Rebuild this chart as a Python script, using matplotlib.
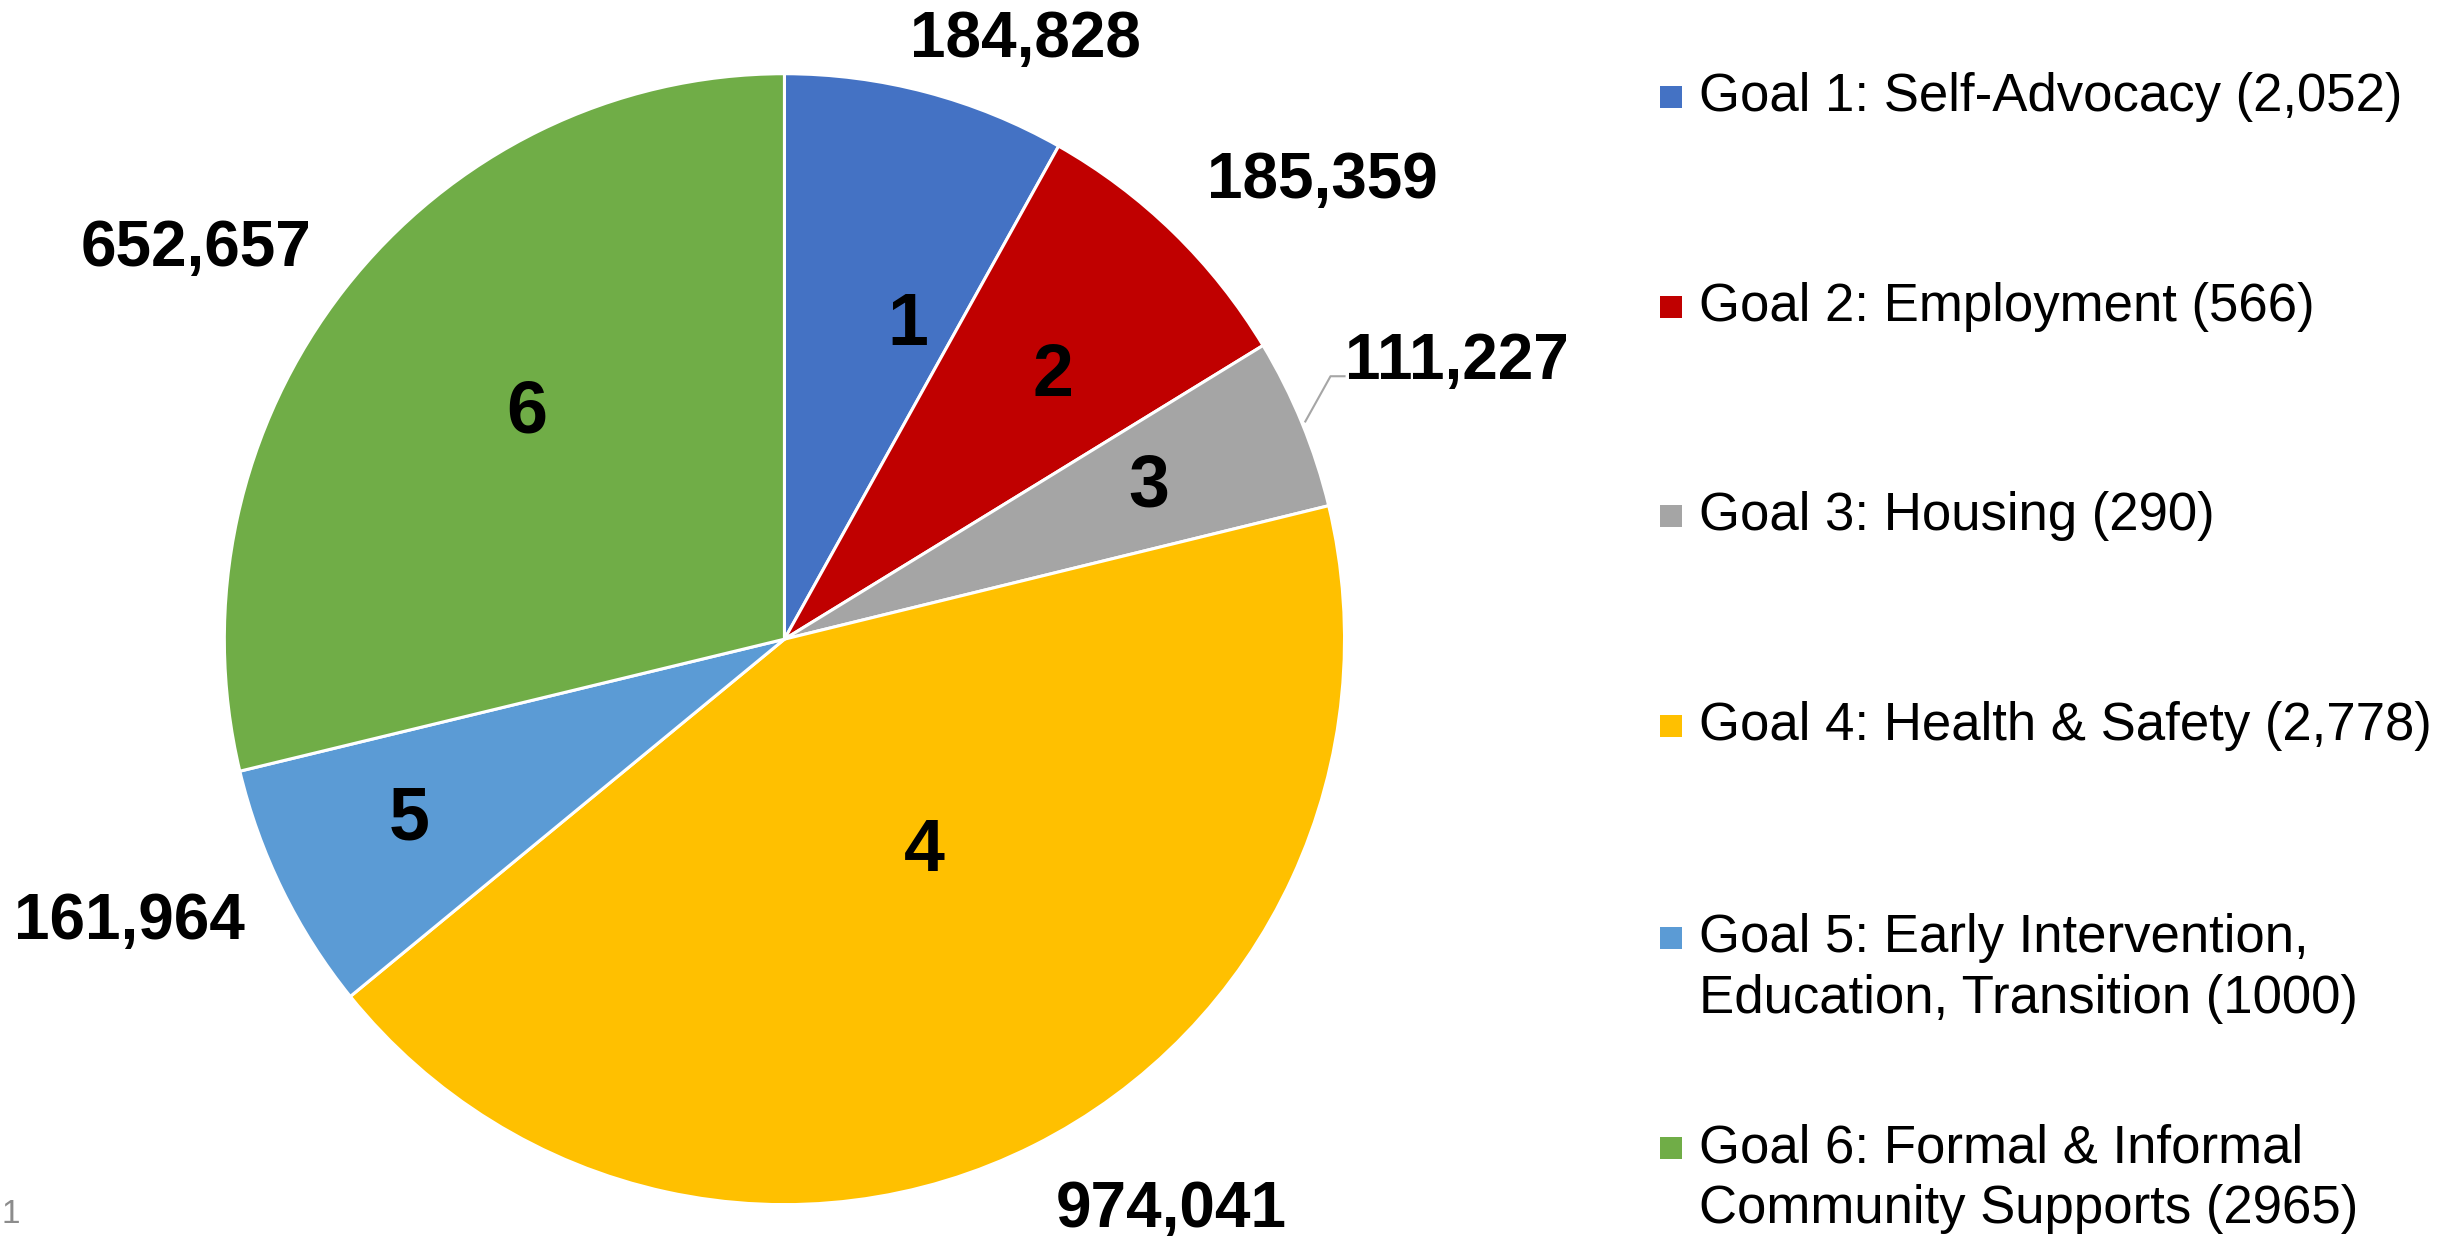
import matplotlib
matplotlib.use("Agg")
import matplotlib.pyplot as plt
from matplotlib.patches import Rectangle

# ---- data ----
goal_numbers = ["1", "2", "3", "4", "5", "6"]
values = [184828, 185359, 111227, 974041, 161964, 652657]
legend_labels = [
    "Goal 1: Self-Advocacy (2,052)",
    "Goal 2: Employment (566)",
    "Goal 3: Housing (290)",
    "Goal 4: Health & Safety (2,778)",
    "Goal 5: Early Intervention,\nEducation, Transition (1000)",
    "Goal 6: Formal & Informal\nCommunity Supports (2965)",
]
colors = ["#4472C4", "#C00000", "#A5A5A5", "#FFC000", "#5B9BD5", "#70AD47"]

# ---- layout (data coords of the unit pie) ----
inner_pos = [(0.22, 0.555), (0.48, 0.465), (0.65, 0.27), (0.25, -0.375), (-0.67, -0.32), (-0.46, 0.40)]
outer_pos = [(0.43, 1.06), (0.96, 0.81), (1.20, 0.49), (0.69, -1.01), (-1.17, -0.50), (-1.05, 0.69)]

plt.rcParams["font.family"] = ["Liberation Sans", "DejaVu Sans"]

W, H = 1568.0, 788.0  # reference display units
fig = plt.figure(figsize=(24.6, 12.36), dpi=100)
ax = fig.add_axes([143 / W, 1 - 768 / H, 714 / W, 721 / H])

wedges, _ = ax.pie(values, colors=colors, startangle=90, counterclock=False,
                   radius=1.0, wedgeprops=dict(edgecolor="white", linewidth=2.2))
ax.set_aspect("auto")
ax.set_xlim(-1, 1)
ax.set_ylim(-1, 1)
ax.axis("off")

for num, (x, y) in zip(goal_numbers, inner_pos):
    ax.text(x, y, num, ha="center", va="center", fontsize=53, fontweight="bold", color="black")

for v, (x, y) in zip(values, outer_pos):
    ax.text(x, y, f"{v:,}", ha="center", va="center", fontsize=46, fontweight="bold", color="black")

# leader line for the small grey slice
ax.plot([0.93, 0.975, 1.0], [0.385, 0.465, 0.465], color="#A6A6A6", lw=1.5, clip_on=False)

# ---- legend (manual) ----
first_line_y = [62, 196, 329, 463, 598, 732]
line_gap = 39
for i, lab in enumerate(legend_labels):
    yd = first_line_y[i]
    sq = 14
    fig.patches.append(Rectangle(((1065 - sq / 2) / W, 1 - (yd + sq / 2) / H), sq / W, sq / H,
                                 transform=fig.transFigure, facecolor=colors[i], edgecolor="none"))
    for j, line in enumerate(lab.split("\n")):
        fig.text(1083 / W, 1 - (yd + j * line_gap) / H, line, ha="left", va="center",
                 fontsize=38, color="black")

# slide number
fig.text(1 / W, 1 - 774 / H, "1", ha="left", va="center", fontsize=24, color="#8C8C8C")

fig.savefig("out.png", dpi=100, facecolor="white")
